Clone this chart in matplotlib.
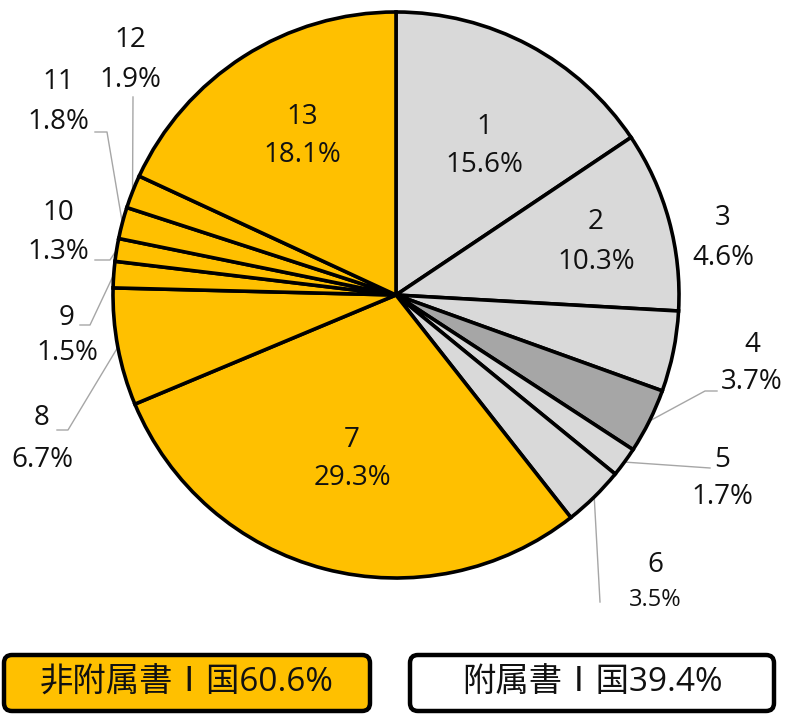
import numpy as np
import matplotlib
matplotlib.use("Agg")
import matplotlib.pyplot as plt
from matplotlib.patches import FancyBboxPatch

plt.rcParams['font.family'] = ['Open Sans', 'Noto Sans CJK JP', 'DejaVu Sans']

# Share of each item (%), clockwise from 12 o'clock
categories = ['1', '2', '3', '4', '5', '6', '7', '8', '9', '10', '11', '12', '13']
shares = [15.6, 10.3, 4.6, 3.7, 1.7, 3.5, 29.3, 6.7, 1.5, 1.3, 1.8, 1.9, 18.1]
groups = ['A', 'A', 'A', 'A*', 'A', 'A', 'N', 'N', 'N', 'N', 'N', 'N', 'N']
group_labels = ['非附属書Ⅰ国60.6%', '附属書Ⅰ国39.4%']

GRAY, DARK, ORANGE = '#D9D9D9', '#A6A6A6', '#FFC000'
color_map = {'A': GRAY, 'A*': DARK, 'N': ORANGE}
colors = [color_map[g] for g in groups]

W, H = 787, 714
fig = plt.figure(figsize=(W / 100, H / 100), dpi=100)
ax = fig.add_axes([0, 0, 1, 1])

def Y(y):
    return H - y

cx, cy, R = 396, 295, 283
ax.pie(shares, colors=colors, startangle=90, counterclock=False,
       center=(cx, Y(cy)), radius=R,
       wedgeprops=dict(edgecolor='black', linewidth=2.6))
ax.set_xlim(0, W)
ax.set_ylim(0, H)
ax.set_aspect('equal')
ax.axis('off')

# label placement (x, name line y, value line y), with optional leader elbows
label_pos = {
    '1': (484, 127, 165), '2': (596, 222, 262), '3': (723, 218, 258),
    '4': (752, 345, 382), '5': (722, 460, 497), '6': (655, 565, 600),
    '7': (352, 440, 478), '8': (42, 418, 460), '9': (67, 318, 353),
    '10': (58, 213, 252), '11': (58, 82, 122), '12': (130, 40, 80),
    '13': (302, 117, 155),
}
leaders = {
    '4': [(705, 391), (717, 391)],
    '5': [(710, 468)],
    '6': [(600, 602)],
    '8': [(68, 430), (57, 430)],
    '9': [(90, 325), (80, 325)],
    '10': [(110, 260), (95, 260)],
    '11': [(107, 132), (95, 132)],
    '12': [(133, 97)],
}

cum = np.cumsum([0] + shares)
for i, (cat, val) in enumerate(zip(categories, shares)):
    x, y1, y2 = label_pos[cat]
    fs_val = 17 if cat == '6' else 20
    ax.text(x, Y(y1), cat, ha='center', va='center', fontsize=20, color='#111111')
    ax.text(x, Y(y2), f'{val:.1f}%', ha='center', va='center', fontsize=fs_val, color='#111111')
    if cat in leaders:
        mid = (cum[i] + cum[i + 1]) / 2
        ang = np.deg2rad(90 - mid * 3.6)
        sx, sy = cx + R * np.cos(ang), Y(cy) + R * np.sin(ang)
        pts = [(sx, sy)] + [(px, Y(py)) for px, py in leaders[cat]]
        xs, ys = zip(*pts)
        ax.plot(xs, ys, color='#A6A6A6', linewidth=1.0, zorder=0.5)

# group summary boxes
boxes = [((4, 655, 366, 56), ORANGE, group_labels[0]),
         ((410, 655, 364, 56), 'white', group_labels[1])]
for (x, y, w, h), fc, txt in boxes:
    ax.add_patch(FancyBboxPatch((x, Y(y + h)), w, h,
                                boxstyle='round,pad=0,rounding_size=8',
                                facecolor=fc, edgecolor='black', linewidth=3.2))
    ax.text(x + w / 2, Y(y + h / 2), txt, ha='center', va='center',
            fontsize=24, color='#111111')

fig.savefig('out.png', dpi=100)
